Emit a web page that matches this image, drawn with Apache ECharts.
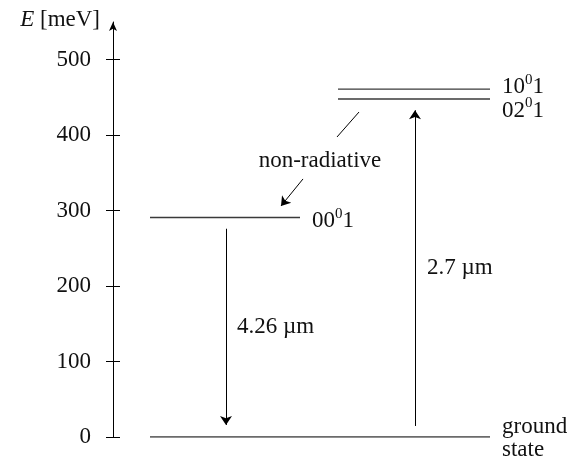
<!DOCTYPE html>
<html>
<head>
<meta charset="utf-8">
<script src="https://cdn.jsdelivr.net/npm/echarts@6/dist/echarts.min.js"></script>
<style>
html,body{margin:0;padding:0;background:#fff;}
#chart{width:579px;height:465px;}
</style>
</head>
<body>
<div id="chart"></div>
<script>
// ---- data ----
const yTicks = [0, 100, 200, 300, 400, 500];
const levelNames = ['ground state', '00⁰1', '02⁰1', '10⁰1'];
const levelEnergies = [0, 291, 448, 461];           // meV
const levelStart = [9.25, 9.25, 56.25, 56.25];      // horizontal extent (arbitrary units)
const levelEnd = [94.25, 46.75, 94.25, 94.25];
// transitions: [x, fromE, toE]
const transitionNames = ['4.26 µm', '2.7 µm'];
const transitionX = [28.25, 75.5];
const transitionFrom = [276, 14.6];
const transitionTo = [16, 433];
// non-radiative pointer segments
const nrFrom = [[61.5, 430.7], [47.5, 342]];
const nrTo = [[56, 397.6], [42, 306.2]];
const annotText = ['non-radiative', '4.26 µm', '2.7 µm'];
const annotPos = [[51.75, 365.8], [31, 145.8], [78.5, 224]];

const FONT = '"Liberation Serif", "DejaVu Serif", serif';
const FS = 23;
const TXT = '#111';
const supRich = {
  n: {fontSize: FS, fontFamily: FONT, color: TXT, lineHeight: 26, verticalAlign: 'bottom'},
  s: {fontSize: 15, fontFamily: FONT, color: TXT, lineHeight: 26, verticalAlign: 'top'}
};
function levelLabel(name) {
  if (name.indexOf('⁰') >= 0) {
    const p = name.split('⁰');
    return '{n|' + p[0] + '}{s|0}{n|' + p[1] + '}';
  }
  return name.replace(' ', '\n');
}
const labelOffsets = [[0, 1], [0, 2], [0, 10], [0, -4]];

const chart = echarts.init(document.getElementById('chart'), null, {renderer: 'canvas'});

const series = [];
levelEnergies.forEach((e, i) => {
  series.push({
    type: 'line', silent: true, symbol: 'none', animation: false,
    lineStyle: {color: '#3a3a3a', width: 1.4},
    data: [[levelStart[i], e], [levelEnd[i], e]]
  });
});
// carrier for the second (inner-tick) axis
series.push({
  type: 'line', silent: true, symbol: 'none', animation: false, yAxisIndex: 1,
  lineStyle: {opacity: 0}, data: [[levelStart[0], levelEnergies[0]]]
});
series.push({
  type: 'scatter', silent: true, animation: false, symbolSize: 0,
  itemStyle: {opacity: 1, color: 'rgba(0,0,0,0)'},
  data: levelEnergies.map((e, i) => {
    const isGround = i === 0;
    return {
      value: [levelEnd[i], e],
      label: {
        show: true, position: 'right', distance: 12, offset: labelOffsets[i],
        formatter: levelLabel(levelNames[i]),
        fontSize: FS, fontFamily: FONT, color: TXT, opacity: 1,
        lineHeight: isGround ? 23 : 26, align: 'left', verticalAlign: 'middle',
        rich: isGround ? {} : supRich
      }
    };
  })
});
series.push({
  type: 'lines', coordinateSystem: 'cartesian2d', silent: true, animation: false,
  symbol: ['none', 'arrow'], symbolSize: [0, 9],
  lineStyle: {color: '#000', width: 1, opacity: 1},
  data: transitionX.map((x, i) => ({coords: [[x, transitionFrom[i]], [x, transitionTo[i]]]}))
});
series.push({
  type: 'lines', coordinateSystem: 'cartesian2d', silent: true, animation: false,
  symbol: ['none', 'none'],
  lineStyle: {color: '#000', width: 1, opacity: 1},
  data: [{coords: [nrFrom[0], nrTo[0]]}]
});
series.push({
  type: 'lines', coordinateSystem: 'cartesian2d', silent: true, animation: false,
  symbol: ['none', 'arrow'], symbolSize: [0, 9],
  lineStyle: {color: '#000', width: 1, opacity: 1},
  data: [{coords: [nrFrom[1], nrTo[1]]}]
});
series.push({
  type: 'scatter', silent: true, animation: false, symbolSize: 0,
  itemStyle: {opacity: 1, color: 'rgba(0,0,0,0)'},
  data: annotPos.map((p, i) => ({
    value: p,
    label: {
      show: true, position: 'inside', formatter: annotText[i],
      align: i === 0 ? 'center' : 'left', verticalAlign: 'middle',
      fontSize: FS, fontFamily: FONT, color: TXT, opacity: 1
    }
  }))
});

chart.setOption({
  backgroundColor: '#fff',
  animation: false,
  grid: {left: 113, width: 400, top: 22, bottom: 28},
  xAxis: {type: 'value', min: 0, max: 100, show: false},
  yAxis: [{
    type: 'value', min: 0, max: 550, position: 'left',
    name: '{i|E} [meV]', nameLocation: 'end', nameGap: 2,
    nameTextStyle: {
      fontSize: FS, fontFamily: FONT, color: TXT, align: 'right', verticalAlign: 'middle',
      padding: [0, 13, 0, 0],
      rich: {i: {fontSize: FS, fontFamily: FONT, fontStyle: 'italic', color: TXT}}
    },
    axisLine: {show: true, lineStyle: {color: '#000', width: 1}, symbol: ['none', 'arrow'], symbolSize: [6, 9]},
    axisTick: {show: true, length: 7, lineStyle: {color: '#000', width: 1}, customValues: yTicks},
    axisLabel: {show: true, margin: 22, fontSize: FS, fontFamily: FONT, color: TXT, customValues: yTicks},
    splitLine: {show: false}
  }, {
    type: 'value', min: 0, max: 550, position: 'left', offset: 0,
    axisLine: {show: false},
    axisTick: {show: true, inside: true, length: 7, lineStyle: {color: '#000', width: 1}, customValues: yTicks},
    axisLabel: {show: false, customValues: yTicks},
    splitLine: {show: false}
  }],
  series: series
});
</script>
</body>
</html>
